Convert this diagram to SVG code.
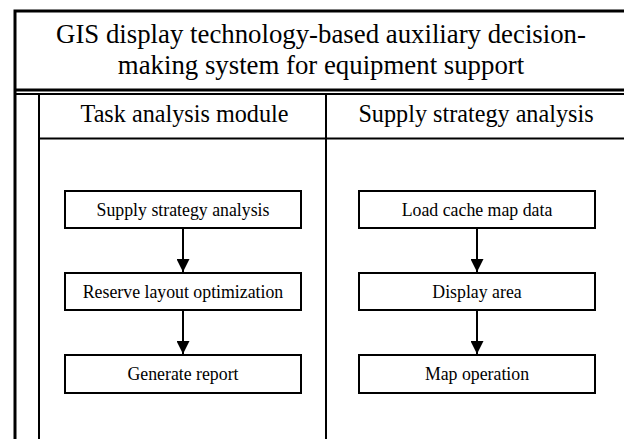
<svg xmlns="http://www.w3.org/2000/svg" width="624" height="439" viewBox="0 0 624 439">
<defs>
<marker id="arr" markerWidth="13" markerHeight="13" refX="13" refY="6.5" orient="auto" markerUnits="userSpaceOnUse" viewBox="0 0 13 13">
<path d="M0,0 L13,6.5 L0,13 z" fill="#000"/>
</marker>
</defs>
<rect x="0" y="0" width="624" height="439" fill="#fff"/>
<g id="frame" fill="none" stroke="#000">
<path d="M15,439 V11 H626 M15,90 H626" stroke-width="3"/>
<path d="M15,94 H626 M39,94 V439 M326,94 V439 M39,138.5 H626" stroke-width="2"/>
</g>
<g id="title">
<text font-family="Liberation Serif" font-size="26.8" text-anchor="middle" x="321" y="43">GIS display technology-based auxiliary decision-</text>
<text font-family="Liberation Serif" font-size="26.8" text-anchor="middle" x="321" y="74">making system for equipment support</text>
</g>
<g id="col-task"><text font-family="Liberation Serif" font-size="24.2" text-anchor="middle" x="184.5" y="122">Task analysis module</text></g>
<g id="col-supply"><text font-family="Liberation Serif" font-size="24.2" text-anchor="middle" x="476" y="122">Supply strategy analysis</text></g>
<g id="n1"><rect x="65" y="191" width="236" height="37" fill="#fff" stroke="#000" stroke-width="2"/><text font-family="Liberation Serif" font-size="17.8" text-anchor="middle" x="183" y="215.5">Supply strategy analysis</text></g>
<g id="n2"><rect x="65" y="273" width="236" height="37" fill="#fff" stroke="#000" stroke-width="2"/><text font-family="Liberation Serif" font-size="17.8" text-anchor="middle" x="183" y="297.5">Reserve layout optimization</text></g>
<g id="n3"><rect x="65" y="355" width="236" height="38" fill="#fff" stroke="#000" stroke-width="2"/><text font-family="Liberation Serif" font-size="17.8" text-anchor="middle" x="183" y="379.5">Generate report</text></g>
<g id="n4"><rect x="359" y="191" width="236" height="37" fill="#fff" stroke="#000" stroke-width="2"/><text font-family="Liberation Serif" font-size="17.8" text-anchor="middle" x="477" y="215.5">Load cache map data</text></g>
<g id="n5"><rect x="359" y="273" width="236" height="37" fill="#fff" stroke="#000" stroke-width="2"/><text font-family="Liberation Serif" font-size="17.8" text-anchor="middle" x="477" y="297.5">Display area</text></g>
<g id="n6"><rect x="359" y="355" width="236" height="38" fill="#fff" stroke="#000" stroke-width="2"/><text font-family="Liberation Serif" font-size="17.8" text-anchor="middle" x="477" y="379.5">Map operation</text></g>
<g id="connectors" stroke="#000" stroke-width="2" fill="none" marker-end="url(#arr)">
<path d="M183,228 V272"/>
<path d="M183,310 V354"/>
<path d="M477,228 V272"/>
<path d="M477,310 V354"/>
</g>
</svg>
